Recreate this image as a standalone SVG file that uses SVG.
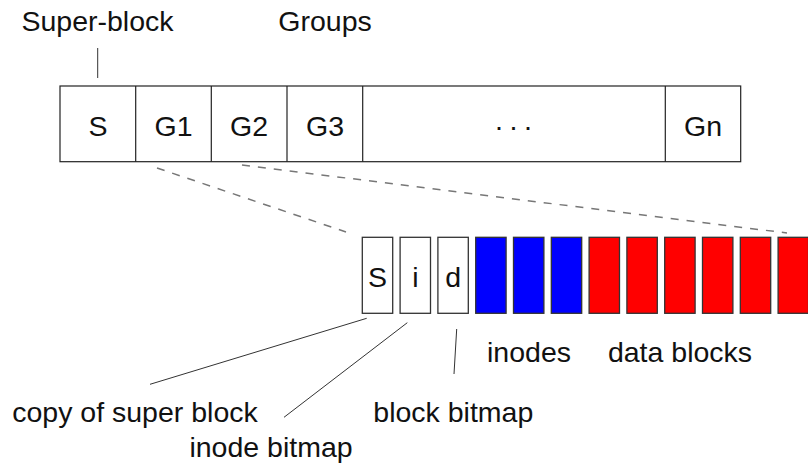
<svg xmlns="http://www.w3.org/2000/svg" width="808" height="465" viewBox="0 0 808 465">
  <style>
    text { font-family: "Liberation Sans", Arial, sans-serif; font-size: 28.5px; fill: #111; text-anchor: middle; }
    .cell { fill: #fff; stroke: #222; stroke-width: 1.2; }
    .blk { stroke: #333; stroke-width: 1.3; }
    .meta { fill: #fff; }
    .inode { fill: #0000ff; }
    .data { fill: #ff0000; }
    .lead { stroke: #333; stroke-width: 1; fill: none; }
    .zoom { stroke: #777; stroke-width: 1.5; stroke-dasharray: 8 8; fill: none; }
  </style>

  <!-- headings -->
  <g id="label-superblock">
    <text x="97.5" y="31">Super-block</text>
  </g>
  <g id="label-groups">
    <text x="325" y="31">Groups</text>
  </g>

  <!-- disk layout: superblock followed by block groups -->
  <g id="disk">
    <rect class="cell" x="60" y="86" width="680.7" height="75.7"/>
    <g id="cell-s">
      <text x="98" y="136">S</text>
    </g>
    <g id="cell-g1">
      <line class="cell" x1="135.7" y1="86" x2="135.7" y2="161.7"/>
      <text x="173.5" y="136">G1</text>
    </g>
    <g id="cell-g2">
      <line class="cell" x1="211.3" y1="86" x2="211.3" y2="161.7"/>
      <text x="249" y="136">G2</text>
    </g>
    <g id="cell-g3">
      <line class="cell" x1="287" y1="86" x2="287" y2="161.7"/>
      <text x="325" y="136">G3</text>
    </g>
    <g id="cell-dots">
      <line class="cell" x1="362.7" y1="86" x2="362.7" y2="161.7"/>
      <text x="516" y="136" letter-spacing="5">···</text>
    </g>
    <g id="cell-gn">
      <line class="cell" x1="665.3" y1="86" x2="665.3" y2="161.7"/>
      <text x="703" y="136">Gn</text>
    </g>
  </g>

  <!-- contents of one block group -->
  <g id="group-detail">
    <g id="blk-s">
      <rect class="blk meta" x="362.3" y="237.3" width="30.4" height="76"/>
      <text x="377.5" y="286.7">S</text>
    </g>
    <g id="blk-i">
      <rect class="blk meta" x="400.1" y="237.3" width="30.4" height="76"/>
      <text x="415.3" y="286.7">i</text>
    </g>
    <g id="blk-d">
      <rect class="blk meta" x="437.9" y="237.3" width="30.4" height="76"/>
      <text x="453.1" y="286.7">d</text>
    </g>
    <g id="inode-table">
      <rect class="blk inode" x="475.7" y="237.3" width="30.4" height="76"/>
      <rect class="blk inode" x="513.5" y="237.3" width="30.4" height="76"/>
      <rect class="blk inode" x="551.3" y="237.3" width="30.4" height="76"/>
    </g>
    <g id="data-blocks">
      <rect class="blk data" x="589.1" y="237.3" width="30.4" height="76"/>
      <rect class="blk data" x="626.9" y="237.3" width="30.4" height="76"/>
      <rect class="blk data" x="664.7" y="237.3" width="30.4" height="76"/>
      <rect class="blk data" x="702.5" y="237.3" width="30.4" height="76"/>
      <rect class="blk data" x="740.3" y="237.3" width="30.4" height="76"/>
      <rect class="blk data" x="778.1" y="237.3" width="30.4" height="76"/>
    </g>
  </g>

  <!-- annotation labels -->
  <g id="label-inodes"><text x="529" y="361.7">inodes</text></g>
  <g id="label-data"><text x="680" y="361.7">data blocks</text></g>
  <g id="label-copy"><text x="135" y="421.7">copy of super block</text></g>
  <g id="label-inode-bitmap"><text x="271" y="456.7">inode bitmap</text></g>
  <g id="label-block-bitmap"><text x="453.3" y="421.7">block bitmap</text></g>

  <!-- connectors -->
  <g id="connectors">
    <line class="lead" x1="97.7" y1="48" x2="97.7" y2="78"/>
    <line class="zoom" x1="157" y1="168" x2="346" y2="232"/>
    <line class="zoom" x1="242" y1="165" x2="787" y2="233"/>
    <line class="lead" x1="366.7" y1="318.3" x2="150" y2="384.3"/>
    <line class="lead" x1="407.3" y1="322.7" x2="284" y2="417.3"/>
    <line class="lead" x1="456.7" y1="329" x2="454" y2="374"/>
  </g>
</svg>
